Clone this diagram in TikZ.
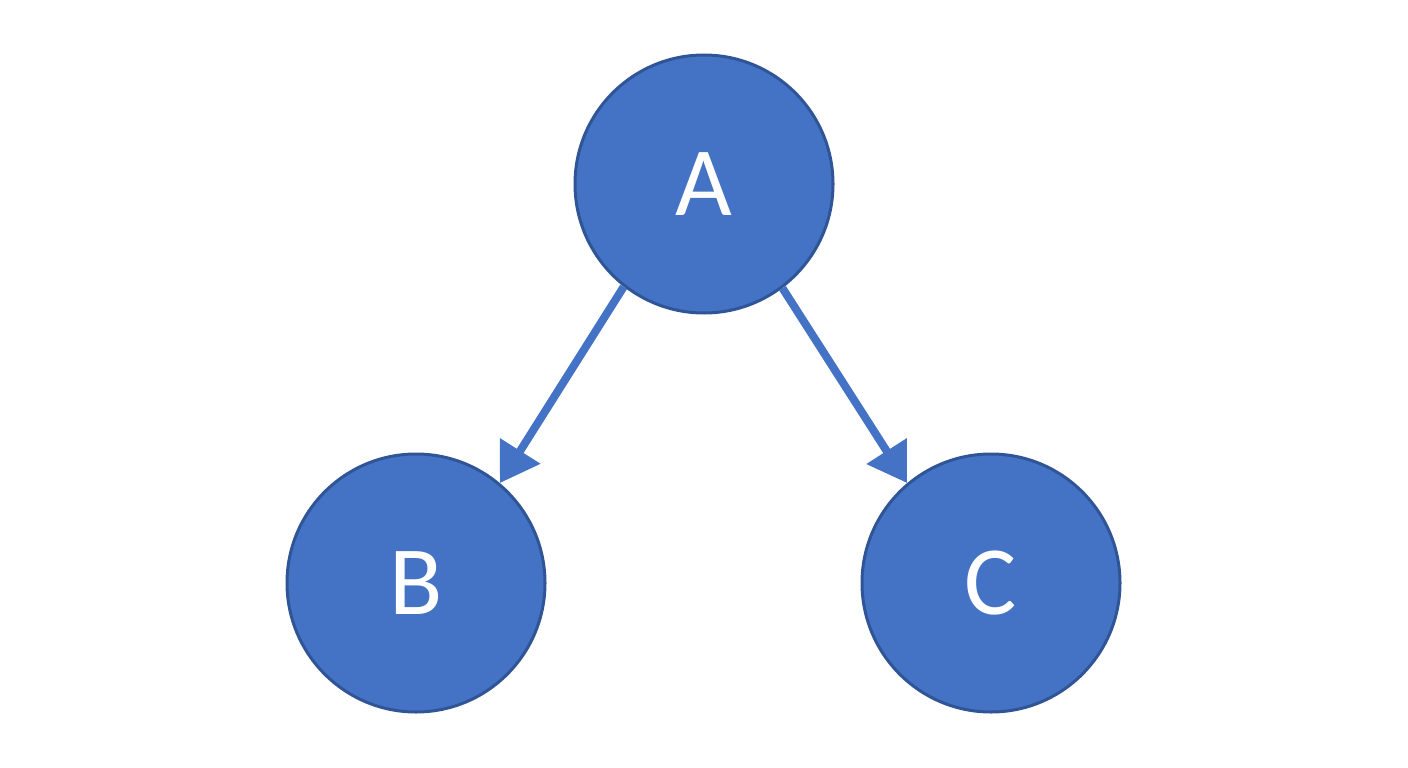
\documentclass[tikz,border=0pt]{standalone}
\usepackage{fontspec}
\setmainfont{Carlito}
\usetikzlibrary{arrows.meta}
\definecolor{nodefill}{HTML}{4472C4}
\definecolor{nodeedge}{HTML}{2F5597}
\begin{document}
\begin{tikzpicture}[x=1pt,y=-1pt,
  vert/.style={circle,fill=nodefill,draw=nodeedge,line width=3pt,minimum size=258pt,inner sep=0pt,text=white,font=\fontsize{98}{98}\selectfont},
  conn/.style={draw=nodefill,line width=8pt,-{Triangle[length=38pt,width=46pt]}}]
\useasboundingbox (0,0) rectangle (1408,768);
\node[vert] (A) at (704,184) {A};
\node[vert] (B) at (416,583) {B};
\node[vert] (C) at (991,583) {C};
\draw[conn] (A.232) -- (B.50);
\draw[conn] (A.307) -- (C.130);
\end{tikzpicture}
\end{document}
